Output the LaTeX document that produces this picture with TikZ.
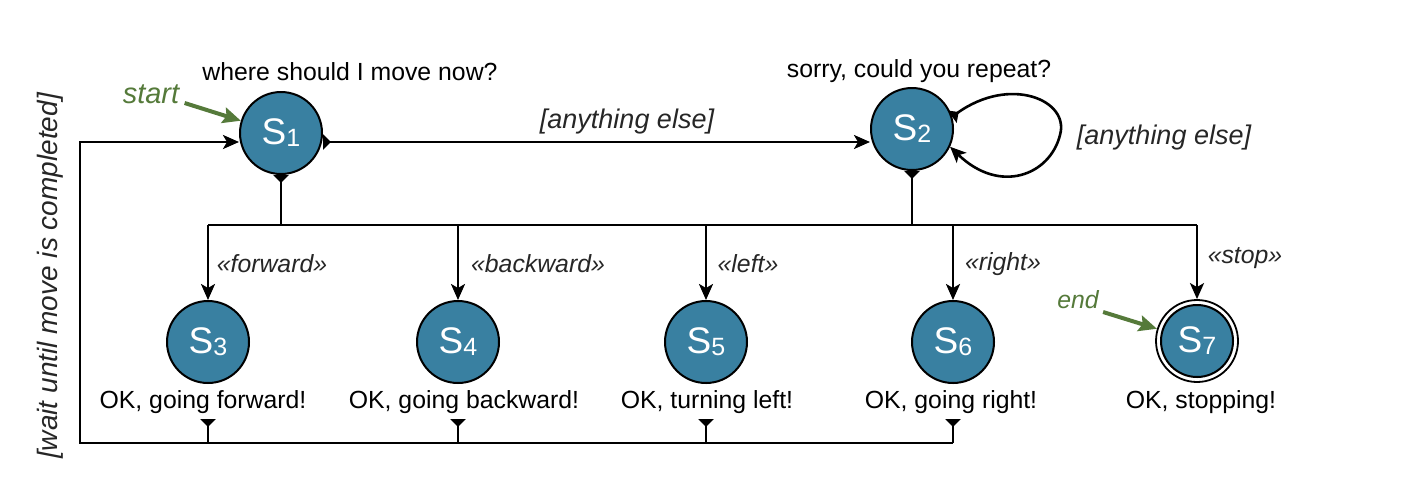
\documentclass[tikz,border=0pt]{standalone}
\usepackage{fontspec}
\setmainfont{Liberation Sans}
\usetikzlibrary{arrows.meta,calc}
\definecolor{stateblue}{RGB}{57,128,161}
\definecolor{labgreen}{RGB}{85,122,58}
\newcommand{\stname}[1]{{\fontsize{18.5}{18.5}\selectfont S\raisebox{-1pt}{\fontsize{12.5}{12.5}\selectfont #1}}}
\tikzset{
  state/.style={circle, draw=black, line width=1pt, fill=stateblue, text=white, minimum size=41pt, inner sep=0pt},
  txt/.style={font=\fontsize{12.4}{14}\selectfont, inner sep=1pt, anchor=base},
  itl/.style={font=\fontsize{12.4}{14}\selectfont\itshape, text=black!85, inner sep=1pt, anchor=base},
  itb/.style={font=\fontsize{13.5}{15}\selectfont\itshape, text=black!85, inner sep=1pt, anchor=base},
  grn/.style={font=\fontsize{12.4}{14}\selectfont\itshape, text=labgreen, inner sep=1pt, anchor=base},
  ln/.style={line width=1.3pt, black},
  arr/.style={ln, arrows={-{Stealth[length=8pt,width=7pt,inset=2pt]}}},
  tailarr/.style={ln, arrows={{Triangle[reversed,length=4pt,width=7.5pt]}-{Stealth[length=8pt,width=7pt,inset=2pt]}}},
  tailonly/.style={ln, arrows={{Triangle[reversed,length=4pt,width=7.5pt]}-}},
  greenarr/.style={line width=2pt, labgreen, arrows={-{Stealth[length=9pt,width=8pt,inset=1.5pt]}}},
}
\begin{document}
\begin{tikzpicture}[x=0.5pt,y=-0.5pt]
\useasboundingbox (0,0) rectangle (1408,494);
% states
\node[state] (s1) at (281,133) {\stname{1}};
\node[state] (s2) at (912,129) {\stname{2}};
\node[state] (s3) at (208,342) {\stname{3}};
\node[state] (s4) at (458,342) {\stname{4}};
\node[state] (s5) at (706,342) {\stname{5}};
\node[state] (s6) at (953,342) {\stname{6}};
\node[circle, draw=black, line width=0.9pt, fill=white, minimum size=41pt, inner sep=0pt] (s7o) at (1197,341) {};
\node[state, minimum size=36pt] (s7) at (1197,341) {\stname{7}};
% texts
\node[txt] (q1) at (350,80) {where should I move now?};
\node[txt] (q2) at (919,77) {sorry, could you repeat?};
\node[txt] (t3) at (203,408) {OK, going forward!};
\node[txt] (t4) at (464,408) {OK, going backward!};
\node[txt] (t5) at (707,408) {OK, turning left!};
\node[txt] (t6) at (951,408) {OK, going right!};
\node[txt] (t7) at (1201,408) {OK, stopping!};
% edge labels
\node[itb] (l12) at (627,128) {[anything else]};
\node[itb] (l22) at (1164,144) {[anything else]};
\node[itl] (lf) at (272,272) {«forward»};
\node[itl] (lb) at (538,272) {«backward»};
\node[itl] (ll) at (748,272) {«left»};
\node[itl] (lr) at (1003,270) {«right»};
\node[itl] (ls) at (1245,263) {«stop»};
\node[itb, font=\fontsize{14}{16}\selectfont\itshape, rotate=90, anchor=center] (lw) at (50,276) {[wait until move is completed]};
\node[grn, font=\fontsize{14.5}{16}\selectfont\itshape] (st) at (151,103) {start};
\node[grn] (en) at (1078,308) {end};
% coordinates
\coordinate (busL) at (208,225);
\coordinate (busR) at (1197,225);
\coordinate (botR) at (953,443);
\coordinate (botL) at (80,443);
\coordinate (topL) at (80,142);
% start / end arrows
\draw[greenarr] ($(st.base east)+(3,0)$) -- (s1.163);
\draw[greenarr] ($(en.base east)+(2,4)$) -- (s7o.163);
% S1 -> S2
\draw[tailarr] (s1.east |- 0,142) -- (s2.west |- 0,142);
% self loop
\draw[tailarr] (s2.17) .. controls (1010,75) and (1070,100) .. (1060,135)
  .. controls (1050,175) and (1000,195) .. (s2.-25);
% bus
\draw[tailonly] (s1.south) -- (s1 |- busL);
\draw[tailonly] (s2.south) -- (s2 |- busL);
\draw[ln] (busL) -- (busR);
\draw[arr] (busL) -- (s3);
\draw[arr] (s4 |- busL) -- (s4);
\draw[arr] (s5 |- busL) -- (s5);
\draw[arr] (s6 |- busL) -- (s6);
\draw[arr] (busR) -- (s7o);
% bottom return
\draw[tailonly] (s3 |- 0,419) -- (s3 |- botL);
\draw[tailonly] (s4 |- 0,419) -- (s4 |- botL);
\draw[tailonly] (s5 |- 0,419) -- (s5 |- botL);
\draw[tailonly] (s6 |- 0,419) -- (botR);
\draw[arr] (botR) -- (botL) -- (topL) -- (s1.west |- topL);
\end{tikzpicture}
\end{document}
